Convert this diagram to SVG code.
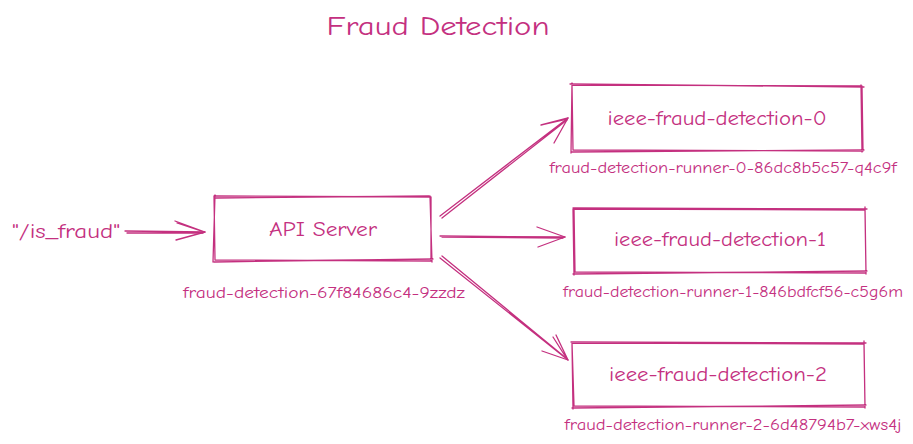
<svg xmlns="http://www.w3.org/2000/svg" width="913" height="444" viewBox="0 0 913 444">
<style>
.s{fill:none;stroke:#c4307f;stroke-width:1.3;stroke-linecap:round;stroke-linejoin:round}
.t{font-family:"Comic Neue","Noto Sans","Liberation Sans",sans-serif;fill:#c4307f}
.lbl{font-size:20px;text-anchor:middle}
.sub{font-size:15px;text-anchor:middle}
</style>
<rect width="913" height="444" fill="#ffffff"/>
<text class="t" x="438" y="35" font-size="26" text-anchor="middle" textLength="223" lengthAdjust="spacingAndGlyphs">Fraud Detection</text>

<g id="connectors">
  <g id="c-in">
    <path class="s" d="M125 231 L205 232 M127 233 L203 233"/>
    <path class="s" d="M175 221 L205 232 L176 240 M177 223 L204 232"/>
  </g>
  <g id="c0">
    <path class="s" d="M440 216 L568 118 M442 218 L567 120"/>
    <path class="s" d="M541 125 L568 118 L554 143 M545 124 L567 119"/>
  </g>
  <g id="c1">
    <path class="s" d="M440 236 L565 237 M442 237 L563 238"/>
    <path class="s" d="M537 227 L565 237 L538 247"/>
  </g>
  <g id="c2">
    <path class="s" d="M440 258 L568 360 M442 256 L566 358"/>
    <path class="s" d="M556 335 L568 360 L542 351 M553 337 L567 359"/>
  </g>
</g>

<g id="input">
  <text class="t" x="66" y="238" font-size="20" text-anchor="middle" textLength="108" lengthAdjust="spacingAndGlyphs">"/is_fraud"</text>
</g>

<g id="api-server">
  <path class="s" d="M214 196 L431 197 L431 261 L215 260 Z M216 198 L429 196 M430 196 L432 262 M433 259 L214 262 M213 262 L215 195"/>
  <text class="t lbl" x="323" y="236" textLength="108" lengthAdjust="spacingAndGlyphs">API Server</text>
  <text class="t sub" x="324" y="298" textLength="282" lengthAdjust="spacingAndGlyphs">fraud-detection-67f84686c4-9zzdz</text>
</g>

<g id="detector-0">
  <path class="s" d="M572 85 L862 86 L863 151 L573 150 Z M570 84 L864 87 M861 85 L862 152 M864 150 L571 152 M571 153 L572 83"/>
  <text class="t lbl" x="717" y="125" textLength="219" lengthAdjust="spacingAndGlyphs">ieee-fraud-detection-0</text>
  <text class="t sub" x="723" y="173" textLength="347" lengthAdjust="spacingAndGlyphs">fraud-detection-runner-0-86dc8b5c57-q4c9f</text>
</g>

<g id="detector-1">
  <path class="s" d="M574 209 L865 210 L866 273 L575 272 Z M573 208 L867 209 M865 207 L866 274 M867 271 L573 274 M574 275 L573 209"/>
  <text class="t lbl" x="720" y="246" textLength="212" lengthAdjust="spacingAndGlyphs">ieee-fraud-detection-1</text>
  <text class="t sub" x="733" y="297" textLength="340" lengthAdjust="spacingAndGlyphs">fraud-detection-runner-1-846bdfcf56-c5g6m</text>
</g>

<g id="detector-2">
  <path class="s" d="M572 343 L864 344 L865 407 L574 406 Z M571 342 L866 343 M864 341 L865 408 M866 405 L572 408 M573 409 L572 343"/>
  <text class="t lbl" x="718" y="381" textLength="218" lengthAdjust="spacingAndGlyphs">ieee-fraud-detection-2</text>
  <text class="t sub" x="733" y="430" textLength="337" lengthAdjust="spacingAndGlyphs">fraud-detection-runner-2-6d48794b7-xws4j</text>
</g>
</svg>
